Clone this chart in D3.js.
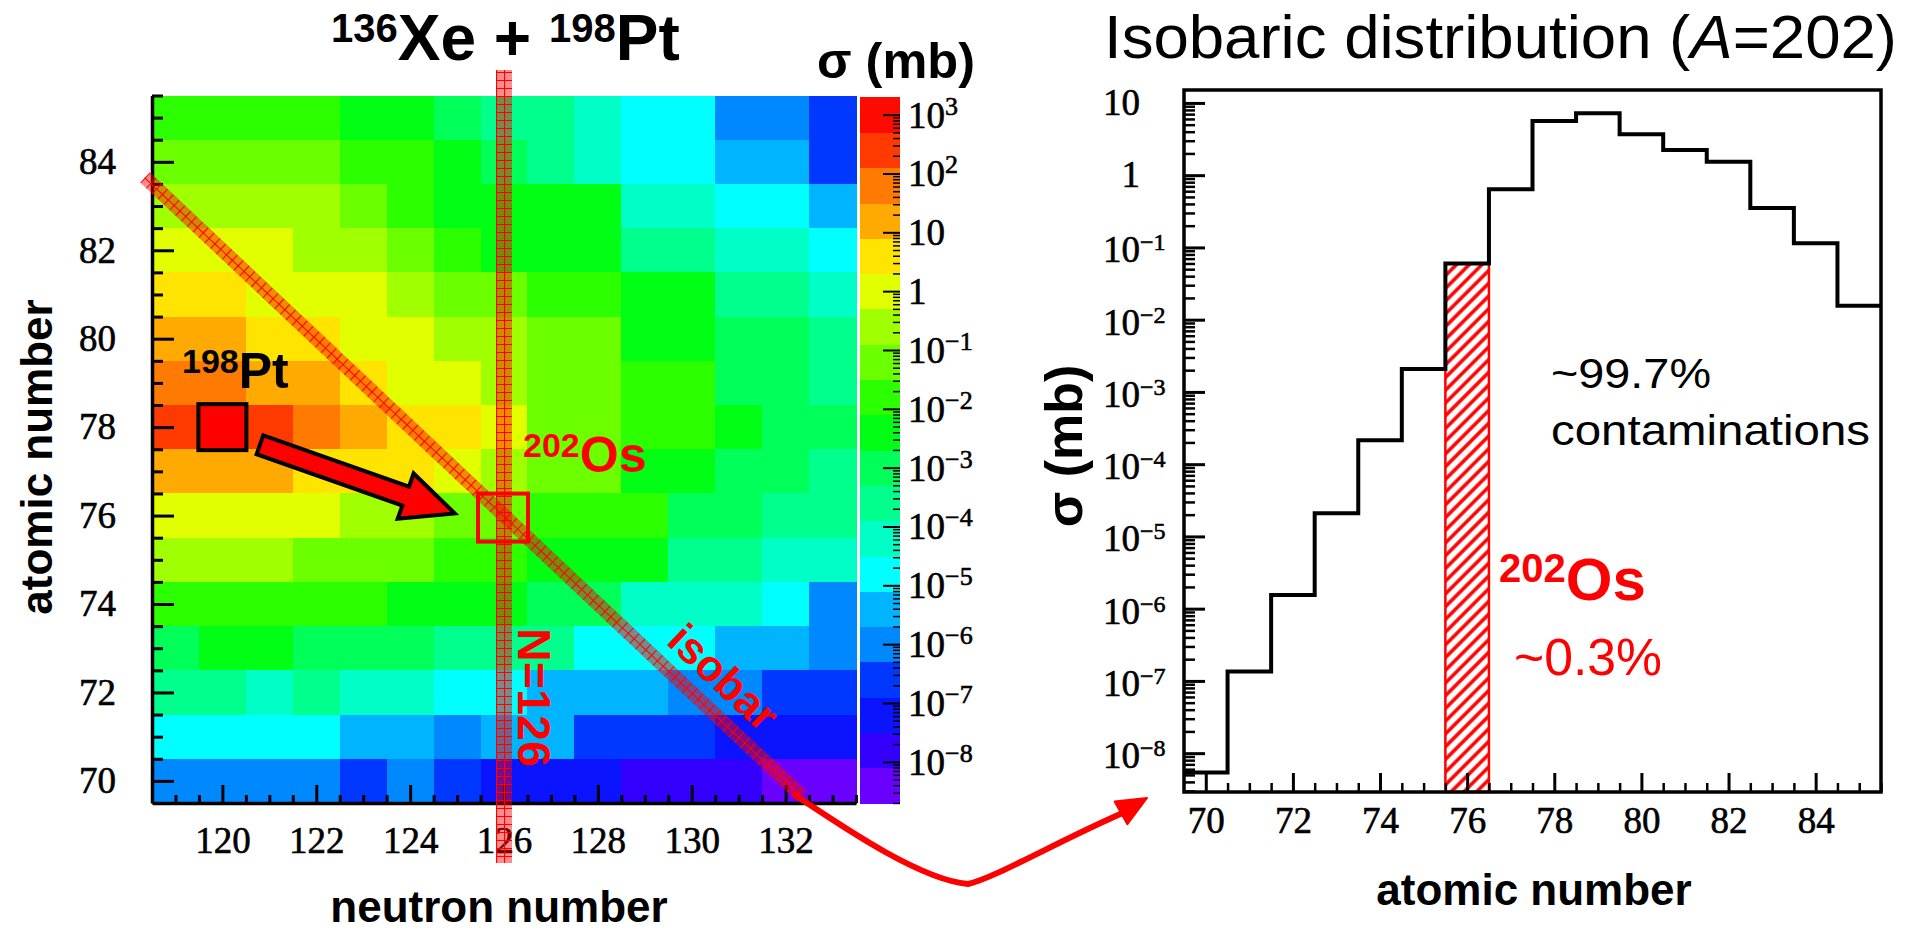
<!DOCTYPE html>
<html>
<head>
<meta charset="utf-8">
<script src="https://cdn.jsdelivr.net/npm/d3@7/dist/d3.min.js"></script>
<style>
  html, body { margin: 0; padding: 0; background: #fff; }
  svg { display: block; }
</style>
</head>
<body>
<div class="app"></div>
<script>
// 136Xe + 198Pt: cross-section map (left) and the A=202 isobaric chain (right)

const neutronN = [119, 120, 121, 122, 123, 124, 125, 126, 127, 128, 129, 130, 131, 132, 133];
const atomicZ = [85, 84, 83, 82, 81, 80, 79, 78, 77, 76, 75, 74, 73, 72, 71, 70];
// log10(sigma / mb), one row per Z (top to bottom), one entry per N
const logSigma = [
  [-1.8, -1.7, -1.8, -1.9, -2.4, -2.3, -3.0, -3.5, -3.6, -4.2, -4.8, -4.9, -6.0, -5.9, -6.5],
  [-1.2, -1.1, -1.2, -1.3, -1.8, -1.8, -2.4, -3.0, -3.6, -4.2, -4.8, -4.7, -5.4, -5.4, -6.6],
  [-0.6, -0.5, -0.6, -0.7, -1.2, -1.8, -2.4, -2.3, -2.4, -2.5, -4.2, -4.1, -4.8, -4.8, -5.4],
  [0.0, 0.1, 0.0, -0.6, -0.6, -1.2, -1.8, -2.4, -2.3, -2.4, -3.6, -3.5, -4.2, -4.2, -4.8],
  [0.6, 0.6, 0.1, 0.0, -0.1, -0.6, -1.2, -1.1, -1.8, -1.8, -2.4, -2.4, -3.6, -3.6, -4.2],
  [1.2, 1.1, 0.6, 0.5, 0.0, -0.1, -0.6, -0.6, -1.2, -1.2, -2.4, -2.3, -3.0, -3.0, -3.6],
  [1.8, 1.7, 1.2, 1.1, 0.6, 0.1, 0.0, -0.6, -1.2, -1.2, -1.8, -1.9, -3.0, -2.9, -3.6],
  [2.4, 3.0, 2.3, 1.8, 1.2, 0.6, 0.5, 0.0, -1.2, -1.2, -1.8, -1.8, -2.4, -3.0, -3.0],
  [1.2, 1.3, 1.1, 0.6, 0.6, 0.5, 0.0, -0.6, -1.2, -1.2, -2.4, -2.4, -3.0, -3.0, -3.6],
  [0.1, 0.0, 0.0, -0.1, -0.6, -0.7, -1.2, -1.3, -1.8, -1.8, -1.9, -3.0, -3.0, -3.6, -3.6],
  [-0.6, -0.6, -0.5, -1.2, -1.1, -1.2, -1.8, -1.8, -2.4, -2.5, -2.4, -3.6, -3.6, -4.2, -4.2],
  [-1.8, -1.7, -1.8, -1.8, -1.9, -2.4, -2.4, -2.5, -3.0, -3.1, -4.2, -4.2, -4.1, -4.8, -6.0],
  [-3.0, -2.4, -2.3, -3.0, -2.9, -3.0, -3.6, -3.6, -3.5, -4.8, -4.8, -4.7, -5.4, -5.4, -6.0],
  [-3.6, -3.5, -4.2, -3.6, -4.2, -4.1, -4.8, -4.8, -5.4, -5.4, -5.5, -6.0, -6.0, -6.6, -6.6],
  [-4.8, -4.8, -4.7, -4.8, -5.4, -5.4, -6.0, -5.4, -5.5, -6.6, -6.6, -6.5, -7.2, -7.2, -7.1],
  [-6.0, -6.0, -5.9, -6.0, -6.6, -6.0, -6.6, -7.2, -7.2, -7.1, -7.8, -7.8, -7.7, -8.4, -8.4]
];
const nTicks = [120, 122, 124, 126, 128, 130, 132];
const zTicks = [70, 72, 74, 76, 78, 80, 82, 84];
const cbarExp = [3, 2, 1, 0, -1, -2, -3, -4, -5, -6, -7, -8];
const isobarA = 202;
const magicN = 126;
const projectile = { n: 120, z: 78 };   // 198Pt
const target = { n: 126, z: 76 };       // 202Os

// isobaric distribution, A = 202
const isoZ = [70, 71, 72, 73, 74, 75, 76, 77, 78, 79, 80, 81, 82, 83, 84, 85];
const isoSigma = [5.4e-9, 1.35e-7, 1.55e-6, 2.1e-5, 2.15e-4, 2.07e-3, 6.0e-2, 0.64,
                  5.6, 7.2, 3.7, 2.23, 1.54, 0.35, 0.114, 0.0156];
const isoXTicks = [70, 72, 74, 76, 78, 80, 82, 84];
const isoYExp = [1, 0, -1, -2, -3, -4, -5, -6, -7, -8];

// ROOT-like rainbow palette, 20 contour levels (low -> high)
const palette = ["#6a00ff", "#3300ff", "#0a14ff", "#0038ff", "#0088ff", "#00b4ff", "#00ffff",
                 "#00ffc6", "#00ff8c", "#00ff58", "#00ff14", "#2cff00", "#6cff00", "#a0ff00",
                 "#e2ff00", "#ffe400", "#ffaa00", "#ff7a00", "#ff3a00", "#ff0a00"];

const W = 1921, H = 931;
const RED = "#ff0000";
const serif = "'Liberation Serif', 'Times New Roman', serif";
const NUM = 37;   // tick label size

const svg = d3.select(".app").append("svg").attr("width", W).attr("height", H)
  .style("font-family", "'Liberation Sans', Arial, Helvetica, sans-serif");

const xN = d3.scaleLinear().domain([118.5, 133.5]).range([152, 856]);
const yZ = d3.scaleLinear().domain([85.5, 69.5]).range([95.5, 803]);
const color = d3.scaleQuantize().domain([-8.7, 3.3]).range(palette);
const yCb = d3.scaleLog().domain([Math.pow(10, -8.7), Math.pow(10, 3.3)]).range([803, 97]);
const xH = d3.scaleLinear().domain([69.5, 85.5]).range([1184, 1881]);
const yH = d3.scaleLog().domain([2.9e-9, 15.1]).range([792, 90]);

// patterns
const defs = svg.append("defs");
const grid = defs.append("pattern").attr("id", "bandGrid").attr("patternUnits", "userSpaceOnUse")
  .attr("width", 8).attr("height", 8);
grid.append("rect").attr("width", 8).attr("height", 8).attr("fill", RED).attr("fill-opacity", 0.45);
grid.append("path").attr("d", "M0,0.5H8M0.5,0V8").attr("stroke", RED).attr("stroke-width", 1.2).attr("fill", "none");

const hatch = defs.append("pattern").attr("id", "hatch").attr("patternUnits", "userSpaceOnUse")
  .attr("width", 9).attr("height", 9).attr("patternTransform", "rotate(45)");
hatch.append("rect").attr("width", 9).attr("height", 9).attr("fill", "#fff");
hatch.append("line").attr("x1", 2).attr("x2", 2).attr("y1", 0).attr("y2", 9)
  .attr("stroke", RED).attr("stroke-width", 3.5);

// ---------- heat map ----------
const cells = atomicZ.flatMap((z, i) => neutronN.map((n, j) => ({ n: n, z: z, v: logSigma[i][j] })));
svg.append("g").selectAll("rect").data(cells).join("rect")
  .attr("x", d => xN(d.n - 0.5))
  .attr("y", d => yZ(d.z + 0.5))
  .attr("width", d => xN(d.n + 0.5) - xN(d.n - 0.5) + 0.6)
  .attr("height", d => yZ(d.z - 0.5) - yZ(d.z + 0.5) + 0.6)
  .attr("fill", d => color(d.v))
  .attr("shape-rendering", "crispEdges");

// colour bar
const edges = [color.domain()[0]].concat(color.thresholds(), [color.domain()[1]]);
svg.append("g").selectAll("rect").data(palette.map((c, i) => ({ lo: edges[i], hi: edges[i + 1], c: c })))
  .join("rect")
  .attr("x", 860).attr("width", 40)
  .attr("y", d => yCb(Math.pow(10, d.hi)))
  .attr("height", d => yCb(Math.pow(10, d.lo)) - yCb(Math.pow(10, d.hi)) + 0.6)
  .attr("fill", d => d.c)
  .attr("shape-rendering", "crispEdges");

function logMinors(scale) {
  const [lo, hi] = scale.domain(), out = [];
  for (let e = Math.floor(Math.log10(lo)); e <= Math.ceil(Math.log10(hi)); e++)
    for (let m = 2; m <= 9; m++) {
      const v = m * Math.pow(10, e);
      if (v > lo && v < hi) out.push(v);
    }
  return out;
}

function tickAxis(axis, transform, width) {
  const g = svg.append("g").attr("transform", transform).call(axis);
  g.select(".domain").remove();
  g.selectAll(".tick line").attr("stroke", "#000").attr("stroke-width", width);
  return g;
}

function numStyle(sel) {
  sel.attr("font-family", serif).attr("font-size", NUM).attr("fill", "#000")
    .attr("stroke", "#000").attr("stroke-width", 0.6);
}

tickAxis(d3.axisRight(yCb).tickValues(cbarExp.map(e => Math.pow(10, e))).tickSize(-17).tickFormat(""),
  "translate(900,0)", 2);
tickAxis(d3.axisRight(yCb).tickValues(logMinors(yCb)).tickSize(-7).tickFormat(""),
  "translate(900,0)", 1.5);

function powLabel(x, y, e, o) {
  const base = e === 0 ? "1" : "10";
  const x0 = o.align === "end" ? x - base.length * NUM * 0.5 : x;
  const t = svg.append("text").attr("x", x0).attr("y", y).call(numStyle).text(base);
  if (e !== 0 && e !== 1)
    t.append("tspan").attr("font-size", o.sup).attr("dy", -o.rise).text(e < 0 ? "\u2212" + (-e) : String(e));
}
cbarExp.forEach(e => powLabel(908, yCb(Math.pow(10, e)) + 13, e, { sup: 26, rise: 13, align: "start" }));

// heat map axes
const axL = svg.append("g").attr("transform", `translate(${xN(118.5)},0)`)
  .call(d3.axisLeft(yZ).tickValues(zTicks).tickSize(-22).tickSizeOuter(0).tickPadding(36));
axL.select(".domain").attr("stroke-width", 3.5);
axL.selectAll(".tick line").attr("stroke-width", 3);
axL.selectAll(".tick text").call(numStyle);
tickAxis(d3.axisLeft(yZ).tickValues(d3.range(70, 86, 0.5).filter(v => !zTicks.includes(v))).tickSize(-11).tickFormat(""),
  `translate(${xN(118.5)},0)`, 3);

const axB = svg.append("g").attr("transform", `translate(0,${yZ(69.5)})`)
  .call(d3.axisBottom(xN).tickValues(nTicks).tickSize(-18).tickSizeOuter(0).tickPadding(24));
axB.select(".domain").attr("stroke-width", 3.5);
axB.selectAll(".tick line").attr("stroke-width", 3);
axB.selectAll(".tick text").call(numStyle);
tickAxis(d3.axisBottom(xN).tickValues(d3.range(119, 133.6, 0.5).filter(v => !nTicks.includes(v))).tickSize(-8).tickFormat(""),
  `translate(0,${yZ(69.5)})`, 3);

// isobar band (N + Z = A)
const isoN0 = 118.35, isoN1 = 132.35;
const p0 = [xN(isoN0), yZ(isobarA - isoN0)], p1 = [xN(isoN1), yZ(isobarA - isoN1)];
const bandAng = Math.atan2(p1[1] - p0[1], p1[0] - p0[0]) * 180 / Math.PI;
const bandLen = Math.hypot(p1[0] - p0[0], p1[1] - p0[1]);
svg.append("g").attr("transform", `translate(${p0[0]},${p0[1]}) rotate(${bandAng})`)
  .append("rect").attr("x", 0).attr("y", -7).attr("width", bandLen).attr("height", 14)
  .attr("fill", "url(#bandGrid)");

// N = 126 band
svg.append("rect").attr("x", xN(magicN) - 8).attr("y", 70).attr("width", 16).attr("height", 793)
  .attr("fill", "url(#bandGrid)");

// 198Pt marker and arrow
svg.append("rect").attr("x", xN(projectile.n) - 24).attr("y", yZ(projectile.z) - 23)
  .attr("width", 48).attr("height", 46).attr("fill", RED).attr("stroke", "#000").attr("stroke-width", 4);

const a0 = [xN(120.8), yZ(77.6)], a1 = [xN(124.95), yZ(76.05)];
const arrAng = Math.atan2(a1[1] - a0[1], a1[0] - a0[0]) * 180 / Math.PI;
const L = Math.hypot(a1[0] - a0[0], a1[1] - a0[1]);
svg.append("g").attr("transform", `translate(${a0[0]},${a0[1]}) rotate(${arrAng})`)
  .append("path")
  .attr("d", `M0,-10H${L - 52}V-24L${L},0L${L - 52},24V10H0Z`)
  .attr("fill", RED).attr("stroke", "#000").attr("stroke-width", 4).attr("stroke-linejoin", "miter");

// 202Os box
svg.append("rect").attr("x", xN(target.n) - 26).attr("y", yZ(target.z) - 22)
  .attr("width", 50).attr("height", 48).attr("fill", "none").attr("stroke", RED).attr("stroke-width", 4);

// labels on the map
const t198 = svg.append("text").attr("x", 182).attr("y", 388).attr("font-weight", "bold").attr("fill", "#000");
t198.append("tspan").attr("font-size", 34).attr("dy", -15).text("198");
t198.append("tspan").attr("font-size", 50).attr("dy", 15).text("Pt");

const t202 = svg.append("text").attr("x", 523).attr("y", 472).attr("font-weight", "bold").attr("fill", RED);
t202.append("tspan").attr("font-size", 34).attr("dy", -15).text("202");
t202.append("tspan").attr("font-size", 50).attr("dy", 15).text("Os");

svg.append("text").attr("transform", "translate(518,628) rotate(90)")
  .attr("font-size", 46).attr("font-weight", "bold").attr("fill", RED)
  .attr("textLength", 139).attr("lengthAdjust", "spacingAndGlyphs").text("N=126");

svg.append("text").attr("transform", `translate(665,643) rotate(${bandAng})`)
  .attr("font-size", 44).attr("font-weight", "bold").attr("fill", RED).text("isobar");

// titles of the left panel
const tt = svg.append("text").attr("x", 331).attr("y", 60).attr("font-weight", "bold").attr("fill", "#000");
tt.append("tspan").attr("font-size", 40).attr("dy", -18).text("136");
tt.append("tspan").attr("font-size", 64).attr("dy", 18).text("Xe + ");
tt.append("tspan").attr("font-size", 40).attr("dy", -18).text("198");
tt.append("tspan").attr("font-size", 64).attr("dy", 18).text("Pt");

svg.append("text").attr("x", 817).attr("y", 78).attr("font-size", 50).attr("font-weight", "bold")
  .attr("textLength", 158).attr("lengthAdjust", "spacingAndGlyphs").text("\u03c3 (mb)");

svg.append("text").attr("transform", "translate(52,457) rotate(-90)").attr("text-anchor", "middle")
  .attr("font-size", 44).attr("font-weight", "bold").text("atomic number");
svg.append("text").attr("x", 499).attr("y", 922).attr("text-anchor", "middle")
  .attr("font-size", 44).attr("font-weight", "bold").text("neutron number");

// connecting curve
svg.append("path")
  .attr("d", "M795,795C840,825 920,880 968,884C995,878 1060,840 1125,812")
  .attr("fill", "none").attr("stroke", RED).attr("stroke-width", 6).attr("stroke-linecap", "round");
svg.append("path").attr("d", "M1147,798L1114.6,801.6L1127.4,824.2Z").attr("fill", RED)
  .attr("stroke", RED).attr("stroke-width", 2).attr("stroke-linejoin", "round");

// ---------- isobaric distribution ----------
const selIdx = isoZ.indexOf(target.z);
svg.append("rect")
  .attr("x", xH(target.z - 0.5)).attr("y", yH(isoSigma[selIdx]))
  .attr("width", xH(target.z + 0.5) - xH(target.z - 0.5))
  .attr("height", yH.range()[0] - yH(isoSigma[selIdx]))
  .attr("fill", "url(#hatch)").attr("stroke", RED).attr("stroke-width", 2.5);

const steps = isoZ.map((z, i) => [z - 0.5, isoSigma[i]]);
steps.push([isoZ[isoZ.length - 1] + 0.5, isoSigma[isoSigma.length - 1]]);
svg.append("path").datum(steps)
  .attr("d", d3.line().x(d => xH(d[0])).y(d => yH(d[1])).curve(d3.curveStepAfter))
  .attr("fill", "none").attr("stroke", "#000").attr("stroke-width", 4).attr("stroke-linejoin", "miter");

tickAxis(d3.axisLeft(yH).tickValues(isoYExp.map(e => Math.pow(10, e))).tickSize(-21).tickFormat(""),
  `translate(${xH(69.5)},0)`, 3);
tickAxis(d3.axisLeft(yH).tickValues(logMinors(yH)).tickSize(-11).tickFormat(""),
  `translate(${xH(69.5)},0)`, 2.5);
const axHB = svg.append("g").attr("transform", `translate(0,${yH.range()[0]})`)
  .call(d3.axisBottom(xH).tickValues(isoXTicks).tickSize(-19).tickSizeOuter(0).tickPadding(15));
axHB.select(".domain").remove();
axHB.selectAll(".tick line").attr("stroke-width", 3);
axHB.selectAll(".tick text").call(numStyle);
tickAxis(d3.axisBottom(xH).tickValues(d3.range(70, 85.6, 0.5).filter(v => !isoXTicks.includes(v))).tickSize(-9).tickFormat(""),
  `translate(0,${yH.range()[0]})`, 2.5);

svg.append("rect").attr("x", xH(69.5)).attr("y", yH.range()[1])
  .attr("width", xH(85.5) - xH(69.5)).attr("height", yH.range()[0] - yH.range()[1])
  .attr("fill", "none").attr("stroke", "#000").attr("stroke-width", 3.5);

isoYExp.forEach(e => powLabel(1140, yH(Math.pow(10, e)) + (e === 0 || e === 1 ? 12 : 15), e,
  { sup: 24, rise: 12, align: "end" }));

const rt = svg.append("text").attr("x", 1104).attr("y", 58).attr("font-size", 62)
  .attr("textLength", 793).attr("lengthAdjust", "spacingAndGlyphs");
rt.append("tspan").text("Isobaric distribution (");
rt.append("tspan").attr("font-style", "italic").text("A");
rt.append("tspan").text("=202)");

svg.append("text").attr("transform", "translate(1082,446) rotate(-90)").attr("text-anchor", "middle")
  .attr("font-size", 52).attr("font-weight", "bold").text("\u03c3 (mb)");
svg.append("text").attr("x", 1534).attr("y", 905).attr("text-anchor", "middle")
  .attr("font-size", 44).attr("font-weight", "bold").text("atomic number");

svg.append("text").attr("x", 1551).attr("y", 388).attr("font-size", 42)
  .attr("textLength", 160).attr("lengthAdjust", "spacingAndGlyphs").text("~99.7%");
svg.append("text").attr("x", 1551).attr("y", 445).attr("font-size", 42)
  .attr("textLength", 319).attr("lengthAdjust", "spacingAndGlyphs").text("contaminations");

const ros = svg.append("text").attr("x", 1499).attr("y", 600).attr("font-weight", "bold").attr("fill", RED);
ros.append("tspan").attr("font-size", 40).attr("dy", -18).text("202");
ros.append("tspan").attr("font-size", 60).attr("dy", 18).text("Os");
svg.append("text").attr("x", 1514).attr("y", 675).attr("font-size", 52).attr("fill", RED)
  .attr("textLength", 148).attr("lengthAdjust", "spacingAndGlyphs").text("~0.3%");
</script>
</body>
</html>
